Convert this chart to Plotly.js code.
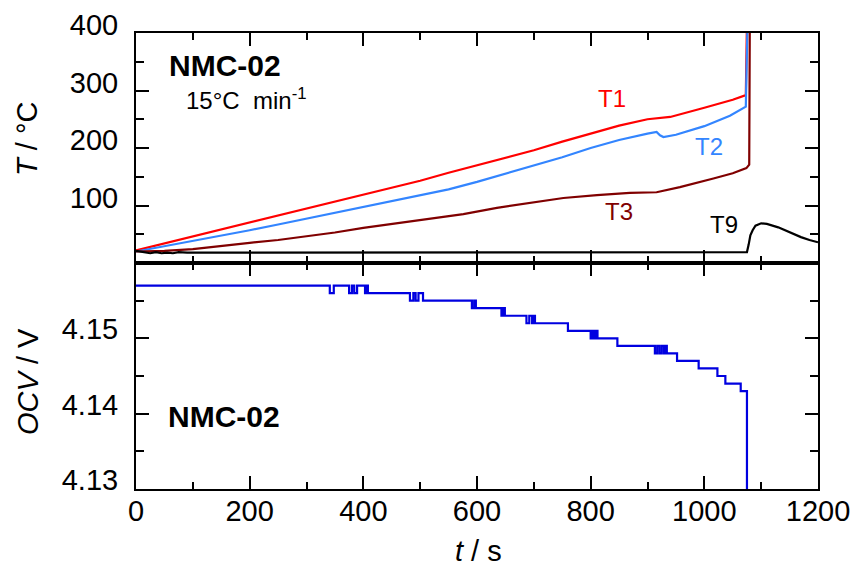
<!DOCTYPE html>
<html>
<head>
<meta charset="utf-8">
<script src="https://cdn.plot.ly/plotly-3.0.1.min.js"></script>
<style>html,body{margin:0;padding:0;background:#fff;}#chart{width:857px;height:570px;}</style>
</head>
<body>
<div id="chart"></div>
<script>
// ---- data ----
const T1_t = [0,50,100,150,200,250,300,350,400,450,500,550,600,650,700,750,800,850,900,940,1000,1050,1073,1075];
const T1_v = [22,34,46,58,71,83,95,107,119,131,143,157,170,183,196,211,225,239,250,254,270,284,292,420];

const T2_t = [0,50,100,150,200,250,300,350,400,450,500,550,600,650,700,750,800,850,900,916,922,928,950,1000,1045,1073,1076];
const T2_v = [20,29,38,47,57,67,77,87,97,107,117,128,141,155,169,184,200,214,225,228,222,219,223,238,256,272,420];

const T3_t = [0,50,100,150,200,250,300,350,400,460,517,576,635,693,752,811,869,916,957,1016,1050,1074,1079,1080];
const T3_v = [20,21,24,30,35,40,46,53,61,69,76,85,96,105,113,118,122,123,132,147,156,165,171,420];

const T9_t = [0,15,25,35,45,55,65,75,90,110,300,600,650,700,750,800,850,1000,1075,1078,1081,1085,1090,1100,1110,1130,1150,1170,1185,1200];
const T9_v = [21,19,17,19,17,18,17,19,18,18,18,18,19,19,18,19,18,18,19,32,48,57,65,69,68,62,53,45,40,36];

const OCV_t = [0,341,348,375,380,384,389,403,405,408,482,488,492,497,505,591,595,598,643,646,649,687,692,697,700,702,760,800,803,806,809,812,847,913,917,921,925,929,932,934,952,990,1023,1037,1064,1075];
const OCV_v = [4.157,4.156,4.157,4.156,4.157,4.156,4.157,4.156,4.157,4.156,4.155,4.156,4.155,4.156,4.155,4.154,4.155,4.154,4.153,4.154,4.153,4.152,4.153,4.152,4.153,4.152,4.151,4.150,4.151,4.150,4.151,4.150,4.149,4.148,4.149,4.148,4.149,4.148,4.149,4.148,4.147,4.146,4.145,4.144,4.143,4.100];

const xTickVals = [0,200,400,600,800,1000,1200];
const yTopTickVals = [100,200,300,400];
const yBotTickVals = [4.13,4.14,4.15];
const yBotTickText = ["4.13","4.14","4.15"];

// ---- styling ----
const FONT = "Liberation Sans, Arial, Helvetica, sans-serif";
const L = 136, R = 818, T = 33, B = 489, W = 857, H = 570;
const split = (B - 263) / (B - T);
const px = x => (x - L) / (R - L);
const py = y => (B - y) / (B - T);

const traces = [
  {x: T1_t, y: T1_v, xaxis: 'x2', yaxis: 'y2', mode: 'lines', line: {color: '#ff0000', width: 2.2}},
  {x: T2_t, y: T2_v, xaxis: 'x2', yaxis: 'y2', mode: 'lines', line: {color: '#3385ff', width: 2.2}},
  {x: T3_t, y: T3_v, xaxis: 'x2', yaxis: 'y2', mode: 'lines', line: {color: '#800000', width: 2.2}},
  {x: T9_t, y: T9_v, xaxis: 'x2', yaxis: 'y2', mode: 'lines', line: {color: '#000000', width: 2.2}},
  {x: OCV_t, y: OCV_v, xaxis: 'x', yaxis: 'y', mode: 'lines', line: {color: '#0000e0', width: 2.2, shape: 'hv'}}
];

const axBase = {
  showline: true, linecolor: '#000', linewidth: 2, mirror: 'ticks',
  ticks: 'inside', ticklen: 13, tickwidth: 2, tickcolor: '#000',
  showgrid: false, zeroline: false, fixedrange: true,
  tickfont: {family: FONT, size: 29, color: '#000'}
};

const layout = {
  width: W, height: H,
  margin: {l: L, r: W - R, t: T, b: H - B, pad: 0},
  paper_bgcolor: '#fff', plot_bgcolor: '#fff',
  showlegend: false,
  xaxis: Object.assign({}, axBase, {
    anchor: 'y', range: [0, 1200], tickmode: 'array', tickvals: xTickVals,
    ticklabelstandoff: -5,
    minor: {tickmode: 'linear', tick0: 0, dtick: 100, ticks: 'inside', ticklen: 7, tickwidth: 2, tickcolor: '#000'}
  }),
  xaxis2: Object.assign({}, axBase, {
    anchor: 'y2', matches: 'x', range: [0, 1200], tickmode: 'array', tickvals: xTickVals, showticklabels: false,
    minor: {tickmode: 'linear', tick0: 0, dtick: 100, ticks: 'inside', ticklen: 7, tickwidth: 2, tickcolor: '#000'}
  }),
  yaxis: Object.assign({}, axBase, {
    anchor: 'x', domain: [0, split], range: [4.13, 4.16],
    tickmode: 'array', tickvals: yBotTickVals, ticktext: yBotTickText,
    ticklabelshift: -9, ticklabelstandoff: 10,
    minor: {tickmode: 'linear', tick0: 4.13, dtick: 0.005, ticks: 'inside', ticklen: 8, tickwidth: 2, tickcolor: '#000'}
  }),
  yaxis2: Object.assign({}, axBase, {
    anchor: 'x2', domain: [split, 1], range: [0, 400],
    tickmode: 'array', tickvals: yTopTickVals,
    ticklabelshift: -8, ticklabelstandoff: 10,
    minor: {tickmode: 'linear', tick0: 0, dtick: 50, ticks: 'inside', ticklen: 8, tickwidth: 2, tickcolor: '#000'}
  }),
  annotations: [
    {text: '<b>NMC-02</b>', x: px(225), y: py(66), font: {family: FONT, size: 30, color: '#000'}},
    {text: '15°C  min<sup>-1</sup>', x: px(246), y: py(99), font: {family: FONT, size: 24, color: '#000'}},
    {text: '<b>NMC-02</b>', x: px(224), y: py(416), font: {family: FONT, size: 30, color: '#000'}},
    {text: 'T1', x: px(612), y: py(98), font: {family: FONT, size: 24, color: '#ff0000'}},
    {text: 'T2', x: px(709), y: py(146), font: {family: FONT, size: 24, color: '#3385ff'}},
    {text: 'T3', x: px(619), y: py(211), font: {family: FONT, size: 24, color: '#800000'}},
    {text: 'T9', x: px(724), y: py(224), font: {family: FONT, size: 24, color: '#000'}},
    {text: '<i>T</i> / °C', x: px(27), y: py(139), textangle: -90, font: {family: FONT, size: 29, color: '#000'}},
    {text: '<i>OCV</i> / V', x: px(28), y: py(382), textangle: -90, font: {family: FONT, size: 29, color: '#000'}},
    {text: '<i>t</i> / s', x: px(478), y: py(551), font: {family: FONT, size: 29, color: '#000'}}
  ].map(a => Object.assign({xref: 'paper', yref: 'paper', showarrow: false, xanchor: 'center', yanchor: 'middle'}, a))
};

Plotly.newPlot('chart', traces, layout, {staticPlot: true, displayModeBar: false});
</script>
</body>
</html>
